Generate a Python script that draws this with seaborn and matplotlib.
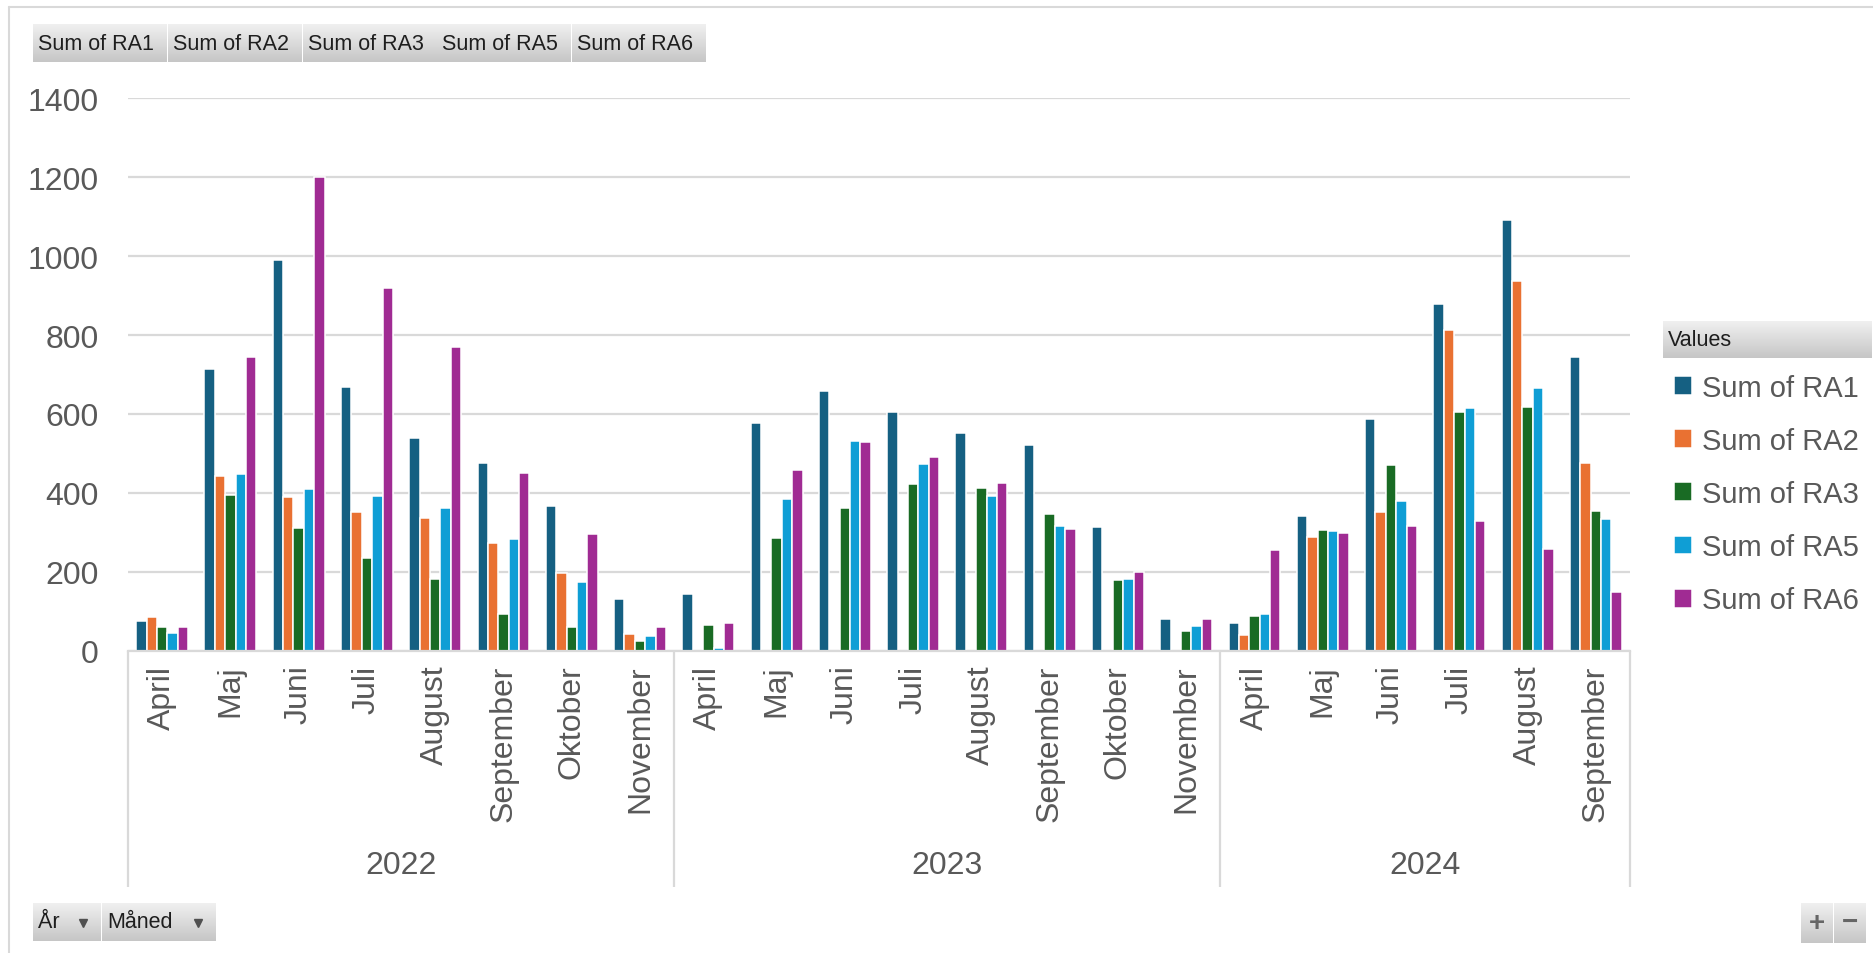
import numpy as np
import pandas as pd
import matplotlib
matplotlib.use("Agg")
import matplotlib.pyplot as plt
from matplotlib.colors import LinearSegmentedColormap
import seaborn as sns

# ---- data -------------------------------------------------------------
years = ["2022", "2023", "2024"]
months_2022 = ["April", "Maj", "Juni", "Juli", "August", "September", "Oktober", "November"]
months_2023 = ["April", "Maj", "Juni", "Juli", "August", "September", "Oktober", "November"]
months_2024 = ["April", "Maj", "Juni", "Juli", "August", "September"]

series = ["Sum of RA1", "Sum of RA2", "Sum of RA3", "Sum of RA5", "Sum of RA6"]

nan = np.nan
ra1 = [76, 713, 991, 669, 538, 477, 368, 131,
       144, 576, 659, 604, 553, 521, 313, 80,
       69, 341, 587, 878, 1091, 744]
ra2 = [86, 443, 389, 351, 337, 272, 196, 42,
       nan, nan, nan, nan, nan, nan, nan, nan,
       39, 289, 351, 813, 936, 477]
ra3 = [59, 395, 310, 234, 183, 94, 59, 25,
       66, 285, 361, 422, 412, 347, 179, 49,
       87, 306, 471, 604, 618, 354]
ra5 = [46, 447, 409, 391, 361, 282, 173, 38,
       8, 384, 531, 474, 392, 316, 183, 63,
       94, 303, 379, 614, 666, 334]
ra6 = [59, 744, 1200, 919, 771, 450, 296, 59,
       69, 457, 529, 491, 426, 309, 200, 80,
       255, 299, 316, 330, 258, 148]

colors = ["#156082", "#E97132", "#196B24", "#0F9ED5", "#A02B93"]

# ---- table ------------------------------------------------------------
month_groups = [months_2022, months_2023, months_2024]
periods, month_labels = [], []
for y, ms in zip(years, month_groups):
    for m in ms:
        periods.append(f"{y} {m}")
        month_labels.append(m)

values = [ra1, ra2, ra3, ra5, ra6]
rows = []
for s, vals in zip(series, values):
    for p, v in zip(periods, vals):
        rows.append({"period": p, "series": s, "value": v})
df = pd.DataFrame(rows)

# ---- figure -----------------------------------------------------------
W, H = 1873, 954
sns.set_theme(style="white")
plt.rcParams["font.family"] = ["Liberation Sans", "DejaVu Sans"]

fig = plt.figure(figsize=(W / 100, H / 100), dpi=100)
fig.patch.set_facecolor("white")

x0, x1, y_top, y_zero = 128, 1630, 99.4, 651.7
ax = fig.add_axes([x0 / W, 1 - y_zero / H, (x1 - x0) / W, (y_zero - y_top) / H])

sns.barplot(data=df, x="period", y="value", hue="series",
            order=periods, hue_order=series, palette=colors,
            saturation=1, width=0.76, edgecolor="white", linewidth=1.1,
            errorbar=None, ax=ax)

text_gray = "#595959"
grid_gray = "#d9d9d9"
fs_axis = 23
fs_leg = 21

ax.set_xlim(-0.5, len(periods) - 0.5)
ax.set_ylim(0, 1400)
ax.set_yticks(np.arange(0, 1401, 200))
ax.yaxis.grid(True, color=grid_gray, linewidth=1.6)
ax.set_axisbelow(True)
for side in ["left", "right", "top"]:
    ax.spines[side].set_visible(False)
ax.spines["bottom"].set_color(grid_gray)
ax.spines["bottom"].set_linewidth(1.6)
ax.set_xlabel("")
ax.set_ylabel("")
ax.set_xticks(range(len(periods)))
ax.set_xticklabels(month_labels, rotation=90)
ax.tick_params(axis="x", length=0, pad=10, labelsize=fs_axis, labelcolor=text_gray)
ax.tick_params(axis="y", length=0, pad=21, labelsize=fs_axis, labelcolor=text_gray)

# year level of the category axis
ax_h = y_zero - y_top
sep_bottom = -(888 - y_zero) / ax_h
year_y = -(866 - y_zero) / ax_h
trans = ax.get_xaxis_transform()
start = -0.5
bounds = [start]
for y, ms in zip(years, month_groups):
    end = start + len(ms)
    ax.text((start + end) / 2, year_y, y, transform=trans, ha="center", va="center",
            fontsize=fs_axis, color=text_gray)
    bounds.append(end)
    start = end
for b in bounds:
    ax.plot([b, b], [0, sep_bottom], transform=trans, color=grid_gray, lw=1.6,
            clip_on=False, solid_capstyle="butt")

# legend
sns.move_legend(ax, "upper left", bbox_to_anchor=(1674 / W, 1 - 375 / H),
                bbox_transform=fig.transFigure, title=None, frameon=False,
                fontsize=fs_leg, labelcolor=text_gray, handlelength=0.62,
                handleheight=0.62, handletextpad=0.35, labelspacing=0.86,
                borderpad=0, borderaxespad=0)

# ---- pivot-chart field buttons and frame -------------------------------
ui = fig.add_axes([0, 0, 1, 1], zorder=5)
ui.patch.set_alpha(0)
ui.axis("off")
btn_cmap = LinearSegmentedColormap.from_list("btn", ["#f0f0f0", "#c6c6c6"])
grad = np.linspace(0, 1, 64).reshape(-1, 1)


def button(bx0, by0, bx1, by1):
    ui.imshow(grad, extent=(bx0, bx1, by1, by0), origin="upper", cmap=btn_cmap,
              aspect="auto", interpolation="bilinear", zorder=1)


ui.plot([9.5, 9.5], [8, H], color=grid_gray, lw=1.5)
ui.plot([9.5, W], [8, 8], color=grid_gray, lw=1.5)

btn_fs = 15.5
bw = (707 - 33) / len(series)
for i, s in enumerate(series):
    bx = 33 + i * bw
    button(bx, 25, bx + bw - 1.5, 63)
    ui.text(bx + 5, 44.5, s, ha="left", va="center", fontsize=btn_fs, color="#1e1e1e", zorder=3)

# "Values" header above the legend
button(1663, 322, 1872, 359)
ui.text(1668, 341, "Values", ha="left", va="center", fontsize=btn_fs, color="#1e1e1e", zorder=3)

# axis field buttons
button(33, 904, 101, 942)
ui.text(38, 923, "År", ha="left", va="center", fontsize=btn_fs, color="#1e1e1e", zorder=3)
ui.plot([83], [924], marker="v", markersize=6, color="#505050", zorder=3)
button(102.5, 904, 216, 942)
ui.text(107, 923, "Måned", ha="left", va="center", fontsize=btn_fs, color="#1e1e1e", zorder=3)
ui.plot([198], [924], marker="v", markersize=6, color="#505050", zorder=3)

# zoom buttons
button(1801, 904, 1833, 944)
button(1834.5, 904, 1866, 944)
ui.text(1817, 924, "+", ha="center", va="center", fontsize=20, color="#666666",
        fontweight="bold", zorder=3)
ui.text(1850, 923, "\u2212", ha="center", va="center", fontsize=20, color="#666666",
        fontweight="bold", zorder=3)

ui.set_xlim(0, W)
ui.set_ylim(H, 0)

fig.savefig("out.png", dpi=100)
